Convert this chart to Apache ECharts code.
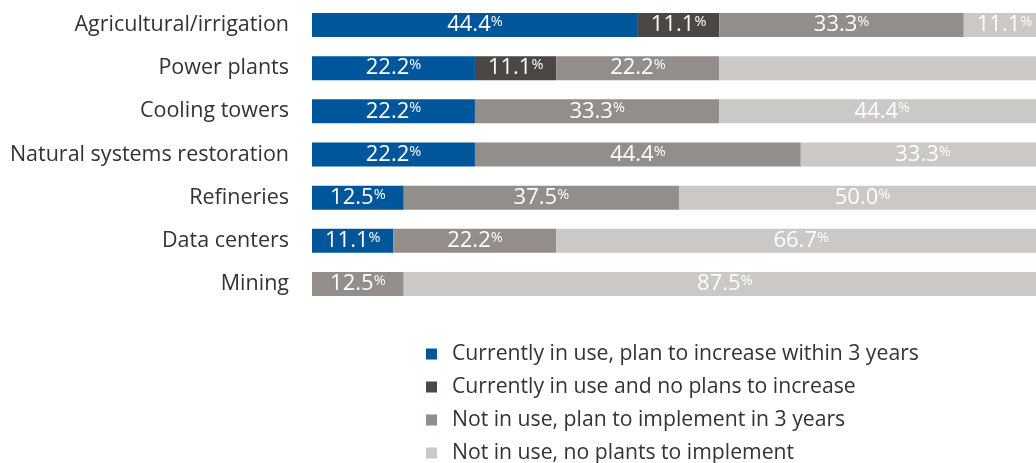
<!DOCTYPE html>
<html>
<head>
<meta charset="utf-8">
<script src="https://cdn.jsdelivr.net/npm/echarts@6/dist/echarts.min.js"></script>
<style>html,body{margin:0;padding:0;background:#fff;}#c{width:1036px;height:463px;}</style>
</head>
<body>
<div id="c"></div>
<script>
const categories = ["Agricultural/irrigation","Power plants","Cooling towers","Natural systems restoration","Refineries","Data centers","Mining"];
const seriesNames = ["Currently in use, plan to increase within 3 years","Currently in use and no plans to increase","Not in use, plan to implement in 3 years","Not in use, no plants to implement"];
const increaseVals = [44.4, 22.2, 22.2, 22.2, 12.5, 11.1, 0];
const noIncreaseVals = [11.1, 11.1, 0, 0, 0, 0, 0];
const planVals = [33.3, 22.2, 33.3, 44.4, 37.5, 22.2, 12.5];
const noPlanVals = [11.1, 44.4, 44.4, 33.3, 50.0, 66.7, 87.5];
const hiddenLabels = [[3, 1]]; // [seriesIndex, categoryIndex] of unlabeled segments
const colors = ["#00569A", "#4C4744", "#938E8A", "#CCC8C5"];

const allVals = [increaseVals, noIncreaseVals, planVals, noPlanVals];
const FONT = "Open Sans";

const chart = echarts.init(document.getElementById('c'), null, {renderer:'canvas'});
const series = allVals.map((vals, si) => ({
  name: seriesNames[si],
  type: 'bar',
  stack: 'total',
  barWidth: 24,
  clip: false,
  itemStyle: {color: colors[si]},
  label: {
    show: true,
    position: 'inside',
    formatter: p => p.value > 0 ? '{n|' + p.value.toFixed(1) + '}{p|%}' : '',
    rich: {
      n: {fontFamily: FONT, fontSize: 22, color: '#fff'},
      p: {fontFamily: FONT, fontSize: 14.5, color: '#fff', padding: [0, 0, 6, 0]}
    }
  },
  data: vals.map((v, ci) => hiddenLabels.some(h => h[0] === si && h[1] === ci)
      ? {value: v, label: {show: false}} : v)
}));

chart.setOption({
  animation: false,
  textStyle: {fontFamily: FONT},
  grid: {left: 312, top: 3.5, right: 0, height: 302, containLabel: false},
  xAxis: {type: 'value', min: 0, max: 98.64, show: false},
  yAxis: {
    type: 'category', data: categories, inverse: true,
    axisLine: {show: false}, axisTick: {show: false},
    axisLabel: {fontFamily: FONT, fontSize: 21.5, color: '#333', margin: 23}
  },
  legend: {
    orient: 'vertical', left: 421, top: 338, height: 200,
    itemWidth: 11, itemHeight: 11, itemGap: 11, icon: 'rect',
    textStyle: {fontFamily: FONT, fontSize: 21.2, color: '#333', lineHeight: 22, padding: [0,0,0,10]},
    data: seriesNames
  },
  series: series
});
</script>
</body>
</html>
